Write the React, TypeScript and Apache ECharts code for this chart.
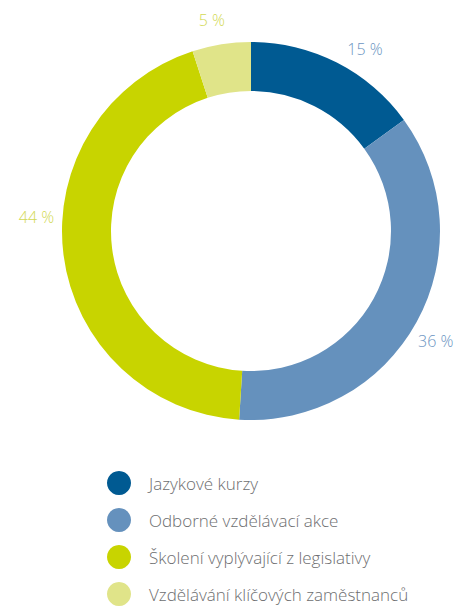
import React, { useEffect, useRef } from 'react';
import * as echarts from 'echarts';

const categories = [
  'Jazykové kurzy',
  'Odborné vzdělávací akce',
  'Školení vyplývající z legislativy',
  'Vzdělávání klíčových zaměstnanců',
];
const values = [15, 36, 44, 5];
const colors = ['#005a92', '#6591bd', '#c8d400', '#e0e489'];
const labelColors = ['#6b95c2', '#6b95c2', '#d2d955', '#d2d955'];
// small angular nudges (degrees) of each percentage label away from its slice's mid-angle
const labelNudgeDeg = [5, 2, 11, -1.5];

const CX = 251;
const CY = 231;
const R_IN = 140;
const R_OUT = 189;
const R_LABEL = 215;
const FONT = '"Open Sans", "Noto Sans", sans-serif';

export default function App() {
  const ref = useRef<HTMLDivElement>(null);

  useEffect(() => {
    if (!ref.current) return;
    const chart = echarts.init(ref.current, undefined, { renderer: 'svg' });
    const total = values.reduce((a, b) => a + b, 0);

    chart.setOption({
      animation: false,
      backgroundColor: '#ffffff',
      legend: {
        orient: 'vertical',
        left: 107,
        top: 471,
        padding: 0,
        itemWidth: 24,
        itemHeight: 24,
        itemGap: 13,
        icon: 'circle',
        selectedMode: false,
        data: categories,
        textStyle: {
          fontSize: 17,
          color: '#6d6e70',
          fontFamily: FONT,
          fontWeight: 300,
          padding: [0, 0, 0, 13],
        },
      },
      series: [
        {
          type: 'pie',
          left: 0,
          top: 0,
          width: 800,
          height: 607,
          center: [CX, CY],
          radius: [R_IN, R_OUT],
          startAngle: 90,
          clockwise: true,
          avoidLabelOverlap: false,
          silent: true,
          label: {
            show: true,
            position: 'outside',
            bleedMargin: 0,
            formatter: '{c} %',
            fontSize: 16,
            fontFamily: FONT,
            fontWeight: 300,
          },
          labelLine: { show: false },
          labelLayout: (p: any) => {
            const i = p.dataIndex;
            const before = values.slice(0, i).reduce((a, b) => a + b, 0);
            const mid =
              ((before + values[i] / 2) / total) * Math.PI * 2 +
              (labelNudgeDeg[i] * Math.PI) / 180;
            return {
              x: CX + R_LABEL * Math.sin(mid),
              y: CY - R_LABEL * Math.cos(mid),
              align: 'center',
              verticalAlign: 'middle',
            };
          },
          data: categories.map((name, i) => ({
            name,
            value: values[i],
            itemStyle: { color: colors[i] },
            label: { color: labelColors[i] },
          })),
        },
      ],
    });

    return () => chart.dispose();
  }, []);

  return (
    <div
      ref={ref}
      style={{ position: 'fixed', left: 0, top: 0, width: 458, height: 607 }}
    />
  );
}
